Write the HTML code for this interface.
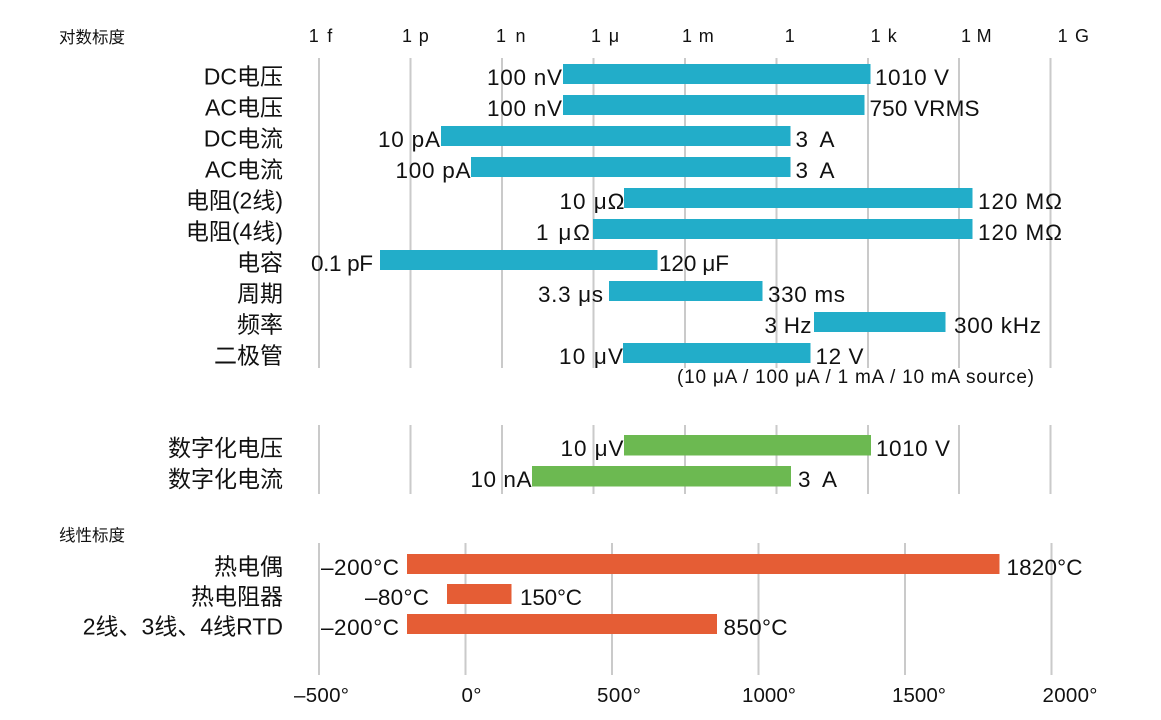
<!DOCTYPE html>
<html>
<head>
<meta charset="utf-8">
<style>
html,body{margin:0;padding:0;background:#fff;}
svg{display:block;}
text{font-family:"Liberation Sans","Noto Sans CJK SC",sans-serif;fill:#111;}
.row{font-size:23px;text-anchor:end;}
.val{font-size:22.5px;}
.tick{font-size:18px;}
.ax{font-size:20.5px;}
.hdr{font-size:16.5px;}
.src{font-size:19px;}
</style>
</head>
<body>
<svg width="1161" height="720" viewBox="0 0 1161 720" xmlns="http://www.w3.org/2000/svg">
<rect x="0" y="0" width="1161" height="720" fill="#fff"/>

<!-- headers -->
<text class="hdr" x="59" y="43">对数标度</text>
<text class="hdr" x="59" y="541">线性标度</text>

<!-- top tick labels -->
<g class="tick">
<text x="308.7" y="42">1</text><text x="327.3" y="42">f</text>
<text x="402" y="42">1</text><text x="418.8" y="42">p</text>
<text x="496" y="42">1</text><text x="515.5" y="42">n</text>
<text x="591" y="42">1</text><text x="608.7" y="42">μ</text>
<text x="682" y="42">1</text><text x="698.8" y="42">m</text>
<text x="784.7" y="42">1</text>
<text x="870.6" y="42">1</text><text x="887.8" y="42">k</text>
<text x="961" y="42">1</text><text x="976.6" y="42">M</text>
<text x="1057.6" y="42">1</text><text x="1075" y="42">G</text>
</g>

<!-- gridlines top section -->
<g stroke="#cacaca" stroke-width="2">
<line x1="319" y1="58" x2="319" y2="368"/>
<line x1="410.5" y1="58" x2="410.5" y2="368"/>
<line x1="502" y1="58" x2="502" y2="368"/>
<line x1="593.5" y1="58" x2="593.5" y2="368"/>
<line x1="685" y1="58" x2="685" y2="368"/>
<line x1="776.5" y1="58" x2="776.5" y2="368"/>
<line x1="868" y1="58" x2="868" y2="368"/>
<line x1="959" y1="58" x2="959" y2="368"/>
<line x1="1050.5" y1="58" x2="1050.5" y2="368"/>
</g>
<!-- gridlines middle section -->
<g stroke="#cacaca" stroke-width="2">
<line x1="319" y1="425" x2="319" y2="494"/>
<line x1="410.5" y1="425" x2="410.5" y2="494"/>
<line x1="502" y1="425" x2="502" y2="494"/>
<line x1="593.5" y1="425" x2="593.5" y2="494"/>
<line x1="685" y1="425" x2="685" y2="494"/>
<line x1="776.5" y1="425" x2="776.5" y2="494"/>
<line x1="868" y1="425" x2="868" y2="494"/>
<line x1="959" y1="425" x2="959" y2="494"/>
<line x1="1050.5" y1="425" x2="1050.5" y2="494"/>
</g>
<!-- gridlines bottom section -->
<g stroke="#cacaca" stroke-width="2">
<line x1="319" y1="543" x2="319" y2="675"/>
<line x1="465.5" y1="543" x2="465.5" y2="675"/>
<line x1="612" y1="543" x2="612" y2="675"/>
<line x1="758.5" y1="543" x2="758.5" y2="675"/>
<line x1="905" y1="543" x2="905" y2="675"/>
<line x1="1051.5" y1="543" x2="1051.5" y2="675"/>
</g>

<!-- top bars -->
<g fill="#22adc9">
<rect x="563" y="64" width="307.5" height="20"/>
<rect x="563" y="95" width="301.5" height="20"/>
<rect x="441" y="126" width="349.5" height="20"/>
<rect x="471" y="157" width="319.5" height="20"/>
<rect x="624" y="188" width="348.5" height="20"/>
<rect x="593" y="219" width="379.5" height="20"/>
<rect x="380" y="250" width="277.5" height="20"/>
<rect x="609" y="281" width="153.5" height="20"/>
<rect x="814" y="312" width="131.5" height="20"/>
<rect x="623" y="343" width="187.5" height="20"/>
</g>

<!-- row labels top -->
<text class="row" x="283" y="84.5">DC电压</text>
<text class="row" x="283" y="115.5">AC电压</text>
<text class="row" x="283" y="146.5">DC电流</text>
<text class="row" x="283" y="177.5">AC电流</text>
<text class="row" x="283" y="208.5">电阻(2线)</text>
<text class="row" x="283" y="239.5">电阻(4线)</text>
<text class="row" x="283" y="270.5">电容</text>
<text class="row" x="283" y="301.5">周期</text>
<text class="row" x="283" y="332.5">频率</text>
<text class="row" x="283" y="363.5">二极管</text>

<!-- value labels top -->
<g class="val">
<text x="487" y="85" textLength="75">100 nV</text>
<text x="875" y="85" textLength="74">1010 V</text>
<text x="487" y="116" textLength="75">100 nV</text>
<text x="869.5" y="116" textLength="110">750 VRMS</text>
<text x="378" y="147" textLength="62">10 pA</text>
<text x="795.5" y="147" textLength="39">3 A</text>
<text x="395.5" y="178" textLength="75">100 pA</text>
<text x="795.5" y="178" textLength="39">3 A</text>
<text x="559.5" y="209" textLength="65">10 μΩ</text>
<text x="978" y="209" textLength="84">120 MΩ</text>
<text x="536" y="240" textLength="54">1 μΩ</text>
<text x="978" y="240" textLength="84">120 MΩ</text>
<text x="311" y="271" textLength="62">0.1 pF</text>
<text x="659" y="271" textLength="70">120 μF</text>
<text x="538" y="302" textLength="65">3.3 μs</text>
<text x="768" y="302" textLength="77">330 ms</text>
<text x="764.5" y="333" textLength="47">3 Hz</text>
<text x="954" y="333" textLength="87">300 kHz</text>
<text x="559" y="364" textLength="64">10 μV</text>
<text x="815.5" y="364" textLength="48">12 V</text>
</g>
<text class="src" x="677" y="383" textLength="357">(10 μA / 100 μA / 1 mA / 10 mA source)</text>

<!-- middle bars -->
<g fill="#6cb951">
<rect x="624" y="435" width="247" height="20.5"/>
<rect x="532" y="466" width="259" height="20.5"/>
</g>
<text class="row" x="283" y="456">数字化电压</text>
<text class="row" x="283" y="487">数字化电流</text>
<g class="val">
<text x="560.5" y="456" textLength="63">10 μV</text>
<text x="876" y="456" textLength="74">1010 V</text>
<text x="470.5" y="487" textLength="61">10 nA</text>
<text x="798" y="487" textLength="39">3 A</text>
</g>

<!-- bottom bars -->
<g fill="#e55d35">
<rect x="407" y="554" width="592.5" height="20"/>
<rect x="447" y="584" width="64.5" height="20"/>
<rect x="407" y="614" width="310" height="20"/>
</g>
<text class="row" x="283" y="574.5">热电偶</text>
<text class="row" x="283" y="604.5">热电阻器</text>
<text class="row" x="283" y="634.5">2线、3线、4线RTD</text>
<g class="val">
<text x="321" y="575" textLength="78">–200°C</text>
<text x="1006.5" y="575" textLength="76">1820°C</text>
<text x="365" y="605" textLength="64">–80°C</text>
<text x="520" y="605" textLength="62">150°C</text>
<text x="321" y="635" textLength="78">–200°C</text>
<text x="723.5" y="635" textLength="64">850°C</text>
</g>

<!-- bottom axis labels -->
<g class="ax">
<text x="294" y="702" textLength="55">–500°</text>
<text x="461.5" y="702" textLength="20">0°</text>
<text x="597" y="702" textLength="44">500°</text>
<text x="742" y="702" textLength="54">1000°</text>
<text x="892" y="702" textLength="54">1500°</text>
<text x="1042.5" y="702" textLength="55">2000°</text>
</g>
</svg>
</body>
</html>
